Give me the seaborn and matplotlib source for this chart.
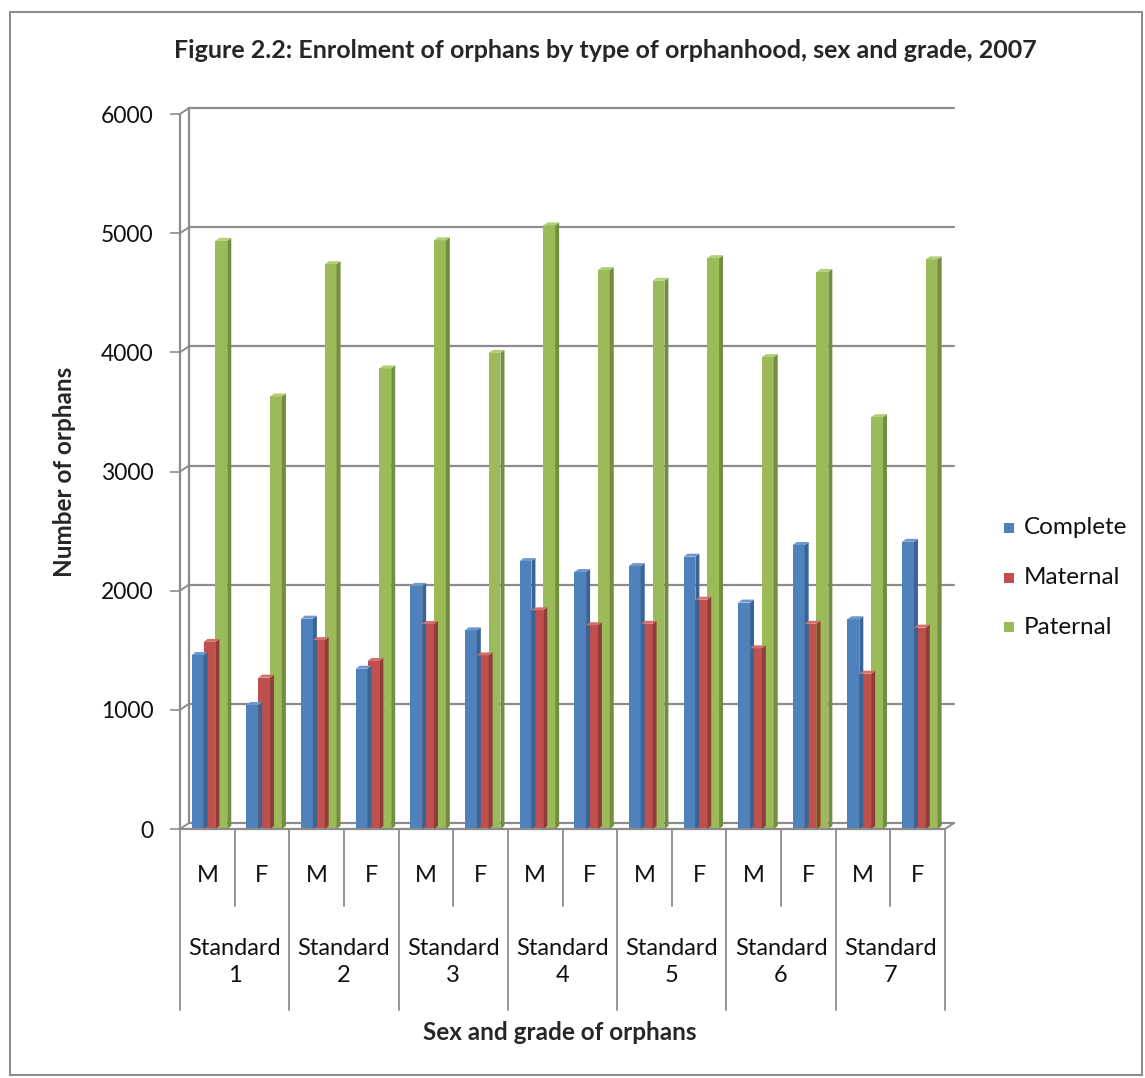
import matplotlib
matplotlib.use("Agg")
import matplotlib.pyplot as plt
from matplotlib.patches import Polygon, Rectangle
from matplotlib.lines import Line2D
from matplotlib.transforms import offset_copy, blended_transform_factory
import seaborn as sns
import pandas as pd

# Enrolment of orphans by type of orphanhood, 2007
grades = ["Standard\n1", "Standard\n2", "Standard\n3", "Standard\n4",
          "Standard\n5", "Standard\n6", "Standard\n7"]
sexes = ["M", "F"]
complete = [1460, 1040, 1765, 1345, 2040, 1667, 2248, 2156, 2206, 2285, 1900, 2383, 1760, 2410]
maternal = [1570, 1270, 1585, 1410, 1720, 1457, 1835, 1710, 1722, 1924, 1516, 1722, 1303, 1690]
paternal = [4935, 3630, 4740, 3865, 4940, 3995, 5065, 4690, 4600, 4790, 3960, 4675, 3456, 4780]
series_names = ["Complete", "Maternal", "Paternal"]
yticks = [0, 1000, 2000, 3000, 4000, 5000, 6000]

colors = ["#4F81BD", "#C0504D", "#9BBB59"]
side_colors = ["#3A6396", "#923C3A", "#738D41"]
top_colors = ["#6E98CC", "#D0716E", "#B3CF7A"]

cats = [f"{g.replace(chr(10), ' ')} {s}" for g in grades for s in sexes]
df = pd.DataFrame({
    "cat": cats * 3,
    "value": complete + maternal + paternal,
    "type": [n for n in series_names for _ in cats],
})

sns.set_theme(style="white")
plt.rcParams["font.family"] = ["Lato", "DejaVu Sans"]

W, H = 1145, 1078
fig = plt.figure(figsize=(W / 100, H / 100), dpi=100)
ax = fig.add_axes([180 / W, 1 - 829 / H, 765 / W, (829 - 114) / H])

sns.barplot(data=df, x="cat", y="value", hue="type", order=cats,
            hue_order=series_names, palette=colors, saturation=1,
            width=0.65, gap=0, ax=ax, legend=False, zorder=3,
            linewidth=0, errorbar=None)

n = len(cats)
ax.set_xlim(-0.5, n - 0.5)
ax.set_ylim(0, 6000)
for s in ax.spines.values():
    s.set_visible(False)
ax.set_xticks([])
ax.set_xlabel("")
ax.set_ylabel("")
ax.set_yticks(yticks)
ax.set_yticklabels([str(t) for t in yticks], fontsize=16.5, color="#111111")
ax.tick_params(axis="y", length=7, width=1.2, color="#8C8C8C", pad=12, left=True)
ax.grid(False)

grid_c = "#8C8C8C"
DX, DY = 9, 6  # back-wall depth offset in pixels
back = offset_copy(ax.transData, fig=fig, x=DX, y=DY, units="dots")
x0, x1 = ax.get_xlim()

def disp(x, y):
    return ax.transData.transform((x, y))

# back wall gridlines and their connectors to the front axis
for v in yticks:
    ax.add_line(Line2D([x0, x1], [v, v], transform=back, color=grid_c,
                       lw=1.6, zorder=1, clip_on=False))
    p0 = disp(x0, v)
    fig.add_artist(Line2D([p0[0], p0[0] + DX], [p0[1], p0[1] + DY],
                          transform=None, color=grid_c, lw=1.4, zorder=1))
# back wall left edge and front axes
ax.add_line(Line2D([x0, x0], [0, 6000], transform=back, color=grid_c, lw=1.6,
                   zorder=1, clip_on=False))
ax.add_line(Line2D([x0, x0], [0, 6000], color=grid_c, lw=1.6, zorder=4, clip_on=False))
ax.add_line(Line2D([x0, x1], [0, 0], color=grid_c, lw=1.6, zorder=4, clip_on=False))
pr = disp(x1, 0)
fig.add_artist(Line2D([pr[0], pr[0] + DX], [pr[1], pr[1] + DY],
                      transform=None, color=grid_c, lw=1.4, zorder=4))

# 3-D faces on each bar (side and top), derived from the drawn bars
bdx, bdy = 4, 3
for i, p in enumerate(list(ax.patches)):
    k = i // n
    bx, by = p.get_x(), p.get_y()
    bw, bh = p.get_width(), p.get_height()
    p.set_x(bx + 0.04)
    bx = bx + 0.04
    (ax_, ay_), (bx_, byy) = disp(bx, by), disp(bx + bw, by + bh)
    side = Polygon([(bx_, ay_), (bx_ + bdx, ay_ + bdy), (bx_ + bdx, byy + bdy), (bx_, byy)],
                   closed=True, transform=None, facecolor=side_colors[k],
                   edgecolor="none", zorder=3)
    top = Polygon([(ax_, byy), (ax_ + bdx, byy + bdy), (bx_ + bdx, byy + bdy), (bx_, byy)],
                  closed=True, transform=None, facecolor=top_colors[k],
                  edgecolor="none", zorder=3)
    fig.add_artist(side)
    fig.add_artist(top)

# multi-level category axis
tr = blended_transform_factory(ax.transData, ax.transAxes)
axh = (829 - 114)
def ay(px):
    return (829 - px) / axh

for i in range(n):
    ax.text(i, ay(875), sexes[i % 2], transform=tr, ha="center", va="center",
            fontsize=17, color="#111111")
for g, label in enumerate(grades):
    ax.text(2 * g + 0.5, ay(962), label, transform=tr, ha="center", va="center",
            fontsize=17, color="#111111", linespacing=1.4)
    ax.add_line(Line2D([2 * g + 0.5, 2 * g + 0.5], [ay(829), ay(906)], transform=tr,
                       color=grid_c, lw=1.3, clip_on=False))
for g in range(len(grades) + 1):
    xv = 2 * g - 0.5
    ax.add_line(Line2D([xv, xv], [ay(829), ay(1010)], transform=tr,
                       color=grid_c, lw=1.3, clip_on=False))

# legend
for k, name in enumerate(series_names):
    yy = 1 - (528 + 49.5 * k) / H
    fig.add_artist(Rectangle((1004 / W, yy - 5 / H), 10 / W, 10 / H,
                             transform=fig.transFigure, facecolor=colors[k],
                             edgecolor="none"))
    fig.text(1024 / W, yy, name, ha="left", va="center", fontsize=17.5,
             color="#111111")

fig.text(605 / W, 1 - 50 / H,
         "Figure 2.2: Enrolment of orphans by type of orphanhood, sex and grade, 2007",
         ha="center", va="center", fontsize=18, fontweight="bold")
fig.text(65 / W, 1 - 472 / H, "Number of orphans", rotation=90, ha="center",
         va="center", fontsize=17.5, fontweight="bold")
fig.text(560 / W, 1 - 1033 / H, "Sex and grade of orphans", ha="center",
         va="center", fontsize=17.5, fontweight="bold")

# outer chart frame
fig.add_artist(Rectangle((10 / W, 3 / H), 1132 / W, 1063 / H, transform=fig.transFigure,
                         facecolor="none", edgecolor="#8C8C8C", lw=1.5))

fig.savefig("out.png", dpi=100)
